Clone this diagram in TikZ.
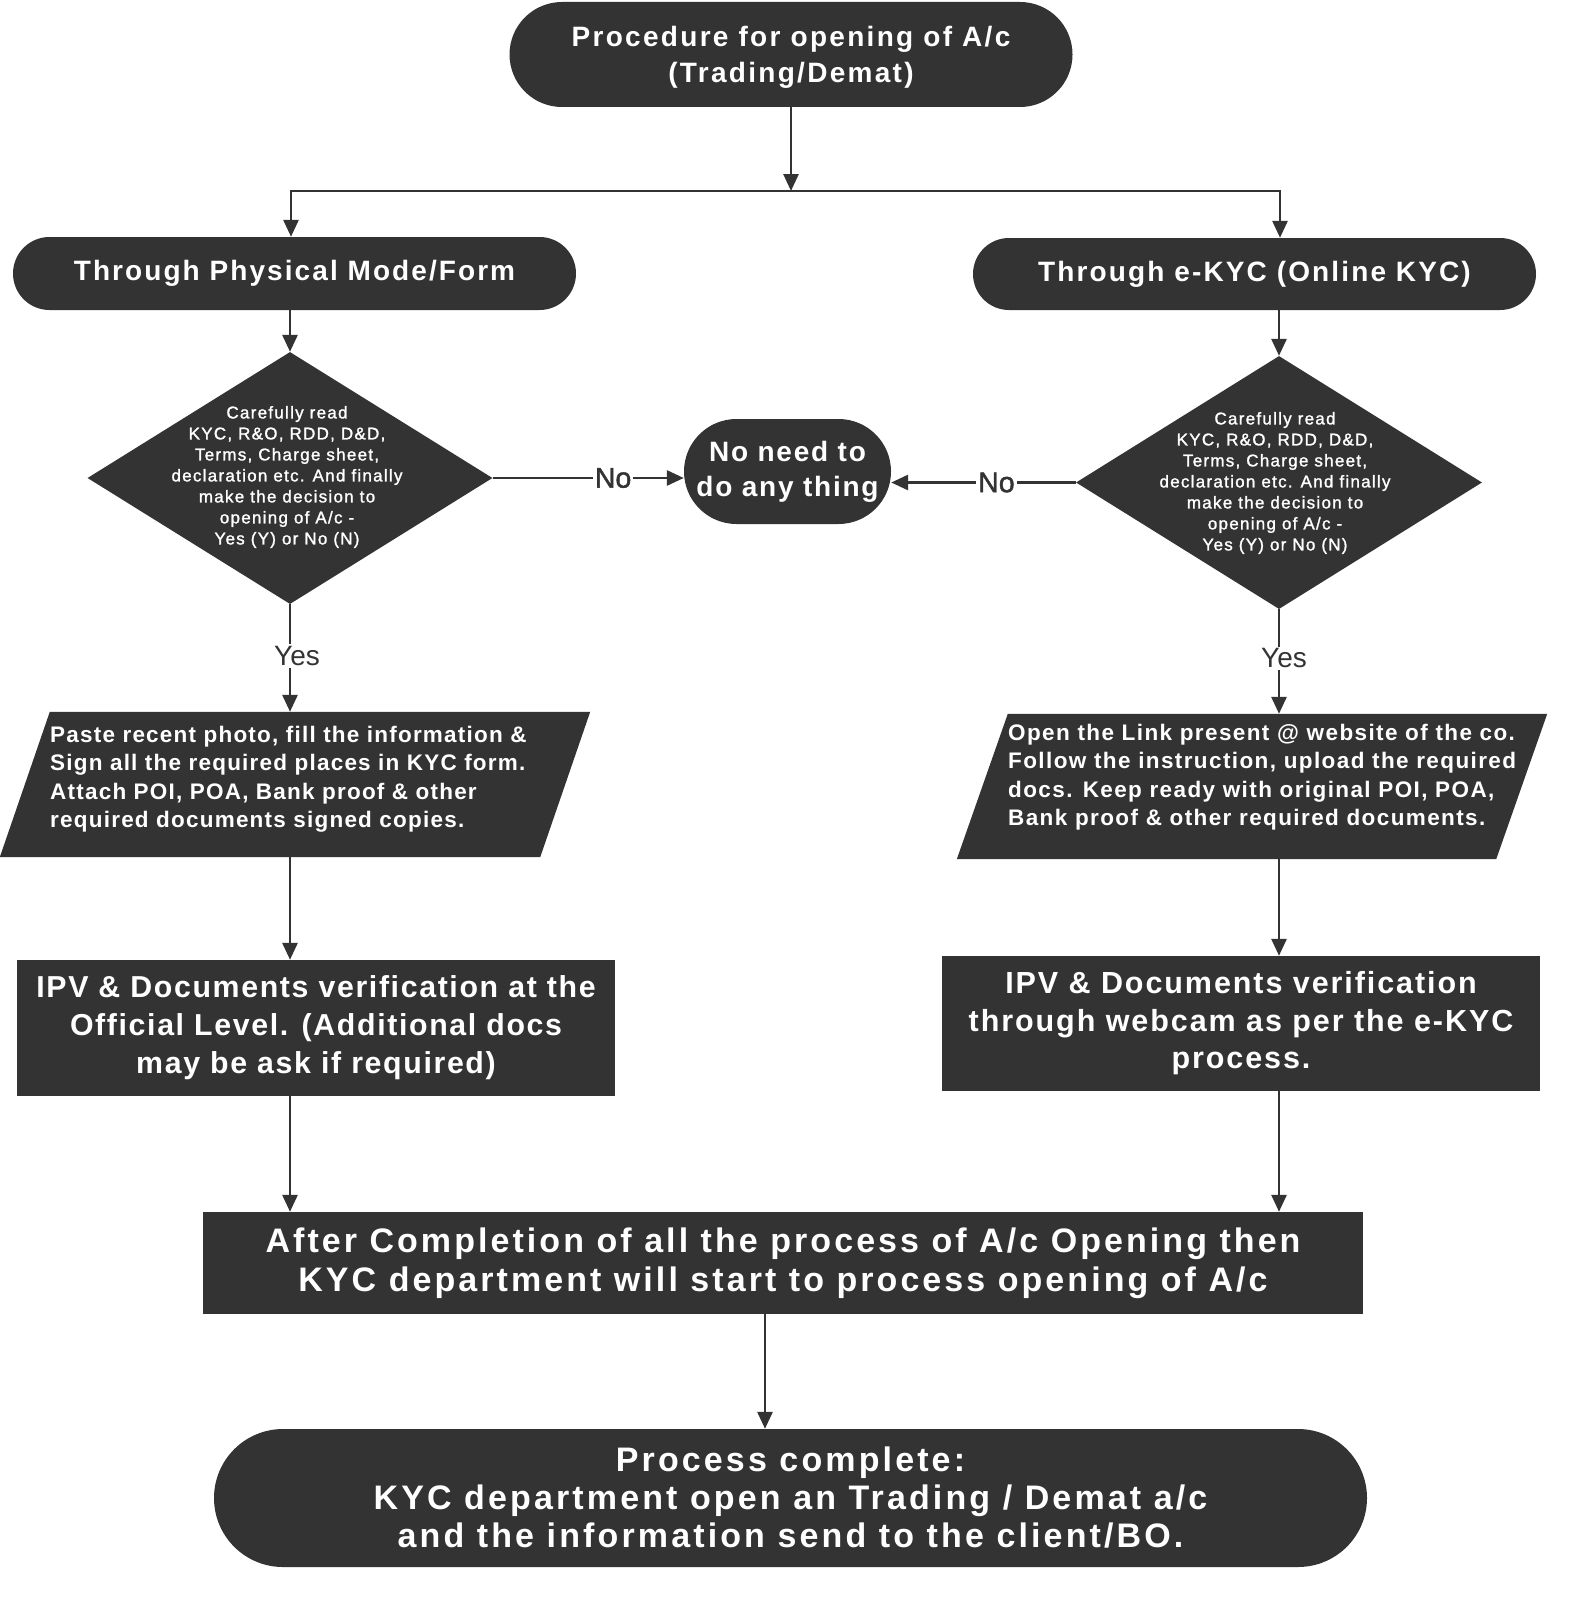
\documentclass[tikz,border=0pt]{standalone}
\usepackage{fontspec}
\setmainfont{Liberation Sans}
\newfontfamily\dfont{Liberation Sans}[RawFeature={embolden=1.4},LetterSpace=7.5]
\newfontfamily\lblfont{Liberation Sans}
\newfontfamily\nofont{Liberation Sans}[RawFeature={embolden=1.5}]
\usetikzlibrary{shapes.geometric,shapes.misc,arrows.meta}
\definecolor{dk}{HTML}{333333}
\newcommand{\myfs}[3]{\fontsize{#1}{#2}\selectfont\bfseries\addfontfeatures{LetterSpace=#3}}
\newcommand{\myfr}[2]{\fontsize{#1}{#2}\selectfont}
\tikzset{
  dkfill/.style={fill=dk,draw=none,text=white,inner sep=0pt,align=center},
  stad/.style={dkfill,rounded rectangle},
  boxr/.style={dkfill,rectangle},
  dshape/.style={dkfill,diamond,aspect=1.6},
  dtext/.style={text=white,align=center,inner sep=0pt,font=\dfont\myfr{17}{21}},
  ptext/.style={text=white,align=left,inner sep=0pt,anchor=west},
  conn/.style={draw=dk,line width=2.8pt,-{Triangle[length=17pt,width=15pt]}},
  plain/.style={draw=dk,line width=2.8pt},
  ylbl/.style={font=\lblfont\myfr{28}{30},text=dk,fill=white,inner sep=2pt},
  nlbl/.style={font=\nofont\myfr{28.5}{30},text=dk,fill=white,inner sep=2pt},
}
\begin{document}
\begin{tikzpicture}[x=1pt,y=-1pt]
\useasboundingbox[fill=white] (0,0) rectangle (1579,1600);
% top
\node[stad,minimum width=563pt,minimum height=105pt] (top) at (791,54.5) {};
\node[text=white,align=center,inner sep=0pt,font=\myfs{28}{36}{8.2}] (topt) at (791,57.5) {Procedure for opening of A/c\\(Trading/Demat)};
\coordinate (split) at (791,191);
\coordinate (sl) at (291,191);
\coordinate (sr) at (1280,191);
% modes
\node[stad,minimum width=563pt,minimum height=73pt,font=\myfs{28}{34}{7.4}] (phys) at (294.5,273.5) {Through Physical Mode/Form};
\node[stad,minimum width=563pt,minimum height=72pt,font=\myfs{28}{34}{7.6}] (ekyc) at (1254.5,274) {Through e-KYC (Online KYC)};
% diamonds
\node[dshape,minimum width=405pt,minimum height=252pt] (d1) at (290,478) {};
\node[dtext] (d1t) at (287,477) {Carefully read\\KYC, R\&O, RDD, D\&D,\\Terms, Charge sheet,\\declaration etc. And finally\\make the decision to\\opening of A/c -\\Yes (Y) or No (N)};
\node[dshape,minimum width=406pt,minimum height=253pt] (d2) at (1279,482.5) {};
\node[dtext] (d2t) at (1275,483) {Carefully read\\KYC, R\&O, RDD, D\&D,\\Terms, Charge sheet,\\declaration etc. And finally\\make the decision to\\opening of A/c -\\Yes (Y) or No (N)};
% no need
\node[stad,minimum width=207pt,minimum height=105pt,font=\myfs{28}{35}{6.2}] (none) at (787.5,471.5) {No need to\\do any thing};
% parallelograms
\node[minimum width=540pt,minimum height=145pt,inner sep=0pt] (p1) at (295,784.5) {};
\fill[dk] ([xshift=25pt]p1.north west) -- ([xshift=25pt]p1.north east) -- ([xshift=-25pt]p1.south east) -- ([xshift=-25pt]p1.south west) -- cycle;
\node[ptext,font=\myfs{22.5}{28.5}{5.4}] (p1t) at (50,779) {Paste recent photo, fill the information \&\\Sign all the required places in KYC form.\\Attach POI, POA, Bank proof \& other\\required documents signed copies.};
\node[minimum width=539pt,minimum height=145pt,inner sep=0pt] (p2) at (1252,786.5) {};
\fill[dk] ([xshift=25.5pt]p2.north west) -- ([xshift=25.5pt]p2.north east) -- ([xshift=-25.5pt]p2.south east) -- ([xshift=-25.5pt]p2.south west) -- cycle;
\node[ptext,font=\myfs{22.5}{28.5}{6.2}] (p2t) at (1008,777) {Open the Link present @ website of the co.\\Follow the instruction, upload the required\\docs. Keep ready with original POI, POA,\\Bank proof \& other required documents.};
% verification boxes
\node[boxr,minimum width=598pt,minimum height=136pt,font=\myfs{30.3}{38}{5.4}] (b1) at (316,1028) {IPV \& Documents verification at the\\Official Level. (Additional docs\\may be ask if required)};
\node[boxr,minimum width=598pt,minimum height=135pt,font=\myfs{30.5}{37.5}{6.3}] (b2) at (1241,1023.5) {IPV \& Documents verification\\through webcam as per the e-KYC\\process.};
% bottom
\node[boxr,minimum width=1160pt,minimum height=102pt,font=\myfs{34}{39}{9}] (bot) at (783,1263) {After Completion of all the process of A/c Opening then\\KYC department will start to process opening of A/c};
\node[stad,minimum width=1153pt,minimum height=138pt,font=\myfs{34}{38}{9.2}] (fin) at (790.5,1498) {Process complete:\\KYC department open an Trading / Demat a/c\\and the information send to the client/BO.};
% connectors
\draw[conn] (top) -- (split);
\draw[plain,line cap=butt] ([xshift=-1.4pt]sl) -- ([xshift=1.4pt]sr);
\draw[conn] ([yshift=-1.4pt]sl) -- (sl |- phys.north);
\draw[conn] ([yshift=-1.4pt]sr) -- (sr |- ekyc.north);
\draw[conn] (d1.north |- phys.south) -- (d1.north);
\draw[conn] (d2.north |- ekyc.south) -- (d2.north);
\draw[conn] (d1.east) -- node[nlbl,pos=0.63]{No} (d1.east -| none.west);
\draw[conn] (d2.west) -- node[nlbl,pos=0.43]{No} (d2.west -| none.east);
\draw[conn] (d1.south) -- node[ylbl,pos=0.48,xshift=7pt]{Yes} (d1.south |- p1.north);
\draw[conn] (d2.south) -- node[ylbl,pos=0.47,xshift=5pt]{Yes} (d2.south |- p2.north);
\draw[conn] ([yshift=3pt]d1.south |- p1.south) -- (d1.south |- b1.north);
\draw[conn] ([yshift=3pt]d2.south |- p2.south) -- (d2.south |- b2.north);
\draw[conn] (d1.south |- b1.south) -- (d1.south |- bot.north);
\draw[conn] ([yshift=2pt]d2.south |- b2.south) -- (d2.south |- bot.north);
\draw[conn] ([xshift=-18pt]bot.south) -- ([xshift=-18pt]bot.south |- fin.north);
\end{tikzpicture}
\end{document}
